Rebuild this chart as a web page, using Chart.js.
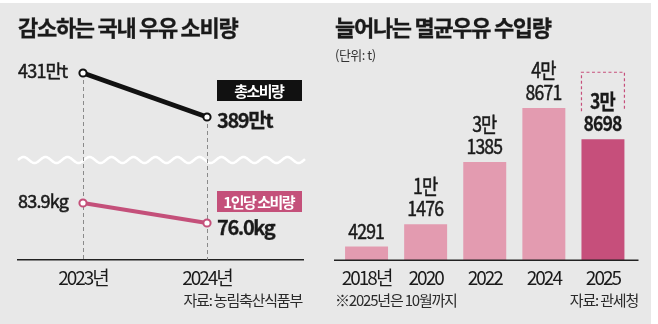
<!DOCTYPE html>
<html><head><meta charset="utf-8">
<script src="https://cdn.jsdelivr.net/npm/chart.js@4.4.0/dist/chart.umd.min.js"></script>
<style>
html,body{margin:0;padding:0;background:#fff;}
body{width:658px;height:324px;position:relative;overflow:hidden;font-family:'Noto Sans CJK KR',sans-serif;}
#panel{position:absolute;left:0;top:3px;width:651px;height:321px;background:#e8e8e8;}
.t{position:absolute;white-space:nowrap;color:#1a1a1a;}
.title{font-size:22px;font-weight:700;letter-spacing:-1.3px;line-height:22px;-webkit-text-stroke:0.3px #1a1a1a;}
.note{font-size:15px;letter-spacing:-1.2px;line-height:16px;color:#2a2a2a;}
.unit{font-size:13px;letter-spacing:-0.5px;line-height:16px;color:#333;}
#lc{position:absolute;left:0;top:0;width:330px;height:324px;}
#rc{position:absolute;left:330px;top:0;width:328px;height:324px;}
</style></head><body>
<div id="panel"></div>
<div id="lc"><canvas id="c1"></canvas></div>
<div id="rc"><canvas id="c2"></canvas></div>
<div class="t title" style="left:18px;top:15px">감소하는 국내 우유 소비량</div>
<div class="t title" style="left:335px;top:15px">늘어나는 멸균우유 수입량</div>
<div class="t unit" style="left:335px;top:47px">(단위: t)</div>
<div class="t note" style="right:356px;top:292px">자료: 농림축산식품부</div>
<div class="t note" style="left:335px;top:292px">※2025년은 10월까지</div>
<div class="t note" style="right:20px;top:292px">자료: 관세청</div>
<script>
// ---- data ----
const consumptionYears = [2023, 2024];
const totalConsumption = [431, 389];      // 만t
const perCapitaConsumption = [83.9, 76.0]; // kg
const seriesNames = ['총소비량', '1인당 소비량'];
const importYears = ['2018년', '2020', '2022', '2024', '2025'];
const importVolume = [4291, 11476, 31385, 48671, 38698]; // t

const FONT = "'Noto Sans CJK KR', sans-serif";
const INK = '#1a1a1a';
const PINK = '#c4507a';
const BAR_LIGHT = '#e39bb0';
const BAR_DARK = '#c64f7b';

function drawLabel(ctx, text, x, y, o) {
  ctx.save();
  ctx.font = o.font;
  ctx.fillStyle = o.color || INK;
  ctx.strokeStyle = o.color || INK;
  ctx.letterSpacing = (o.spacing || 0) + 'px';
  ctx.textBaseline = 'middle';
  ctx.textAlign = 'left';
  const sx = o.scaleX || 1;
  const w = (ctx.measureText(text).width - (o.spacing || 0)) * sx;
  const left = o.align === 'right' ? x - w : (o.align === 'center' ? x - w / 2 : x);
  ctx.translate(left, y);
  ctx.scale(sx, 1);
  ctx.fillText(text, 0, 0);
  if (o.stroke) { ctx.lineWidth = o.stroke; ctx.strokeText(text, 0, 0); }
  ctx.restore();
}

const tickFont = { family: FONT, size: 19 };
const spacingPlugin = {
  id: 'spacing',
  beforeDraw(chart) { chart.ctx.letterSpacing = '-2px'; }
};

// ---- left chart ----
const leftDeco = {
  id: 'leftDeco',
  beforeDatasetsDraw(chart) {
    const ctx = chart.ctx, a = chart.chartArea;
    // wavy break line
    ctx.save();
    ctx.strokeStyle = '#ffffff';
    ctx.lineWidth = 2.5;
    ctx.beginPath();
    const wy = 160;
    for (let x = a.left; x <= a.right + 2; x += 1) {
      const y = wy + 3 * Math.sin((x - a.left) / 22 * Math.PI * 2 + Math.PI);
      if (x === a.left) ctx.moveTo(x, y); else ctx.lineTo(x, y);
    }
    ctx.stroke();
    // dashed drop lines
    ctx.strokeStyle = '#8a8a8a';
    ctx.lineWidth = 1;
    ctx.setLineDash([4, 3]);
    chart.getDatasetMeta(0).data.forEach(p => {
      ctx.beginPath();
      ctx.moveTo(Math.round(p.x) + 0.5, p.y);
      ctx.lineTo(Math.round(p.x) + 0.5, a.bottom);
      ctx.stroke();
    });
    ctx.restore();
  },
  afterDatasetsDraw(chart) {
    const ctx = chart.ctx, a = chart.chartArea;
    const fmt = [v => v + '만t', v => v.toFixed(1) + 'kg'];
    const boxColor = ['#111111', PINK];
    const boxOff = [-37, -32];
    const endOff = [3, 4];
    chart.data.datasets.forEach((ds, di) => {
      const pts = chart.getDatasetMeta(di).data;
      const vals = ds.data.map(d => d.y);
      // first value (left)
      drawLabel(ctx, fmt[di](vals[0]), a.left, pts[0].y - 2,
        { font: `400 18px ${FONT}`, spacing: -0.8, stroke: 0.5 });
      // last value (right, bold)
      const last = pts[pts.length - 1];
      drawLabel(ctx, fmt[di](vals[vals.length - 1]), last.x + 10, last.y + endOff[di],
        { font: `700 20px ${FONT}`, spacing: -1.4, stroke: 0.3 });
      // series box
      const bx = last.x + 10, bw = a.right - 1 - bx, by = last.y + boxOff[di], bh = 21;
      ctx.save();
      ctx.fillStyle = boxColor[di];
      ctx.fillRect(bx, by, bw, bh);
      ctx.restore();
      drawLabel(ctx, ds.label, bx + bw / 2, by + bh / 2 + 0.5,
        { font: `700 15px ${FONT}`, spacing: -1.5, color: '#ffffff', align: 'center' });
    });
  }
};

new Chart(document.getElementById('c1'), {
  type: 'line',
  data: {
    datasets: [
      {
        label: seriesNames[0],
        data: consumptionYears.map((y, i) => ({ x: y, y: totalConsumption[i] })),
        yAxisID: 'yTop',
        borderColor: '#111111', borderWidth: 5,
        pointRadius: 3.6, pointBorderWidth: 2,
        pointBackgroundColor: '#ffffff', pointBorderColor: '#111111'
      },
      {
        label: seriesNames[1],
        data: consumptionYears.map((y, i) => ({ x: y, y: perCapitaConsumption[i] })),
        yAxisID: 'yBot',
        borderColor: PINK, borderWidth: 4,
        pointRadius: 3.6, pointBorderWidth: 2,
        pointBackgroundColor: '#ffffff', pointBorderColor: PINK
      }
    ]
  },
  options: {
    responsive: true, maintainAspectRatio: false, animation: false,
    layout: { padding: { left: 18, right: 27, top: 40, bottom: 0 } },
    plugins: { legend: { display: false }, tooltip: { enabled: false } },
    scales: {
      x: {
        type: 'linear', min: 2022.4758, max: 2024.7742,
        afterBuildTicks: s => { s.ticks = consumptionYears.map(v => ({ value: v })); },
        afterFit: s => { s.height = 64; },
        grid: { display: false, drawTicks: false },
        border: { display: true, color: '#222222', width: 1.5 },
        ticks: { autoSkip: false, maxRotation: 0, padding: 6, font: tickFont, color: INK,
                 callback: v => v + '년' }
      },
      yTop: { display: false, min: 252.5, max: 462.5 },
      yBot: { display: false, min: 61.39, max: 148.28 }
    }
  },
  plugins: [spacingPlugin, leftDeco]
});

// ---- right chart ----
const rightDeco = {
  id: 'rightDeco',
  afterDatasetsDraw(chart) {
    const ctx = chart.ctx, a = chart.chartArea;
    ctx.save();
    ctx.strokeStyle = '#222222';
    ctx.lineWidth = 1.5;
    ctx.beginPath();
    ctx.moveTo(a.left - 3, a.bottom + 0.25);
    ctx.lineTo(a.right + 6, a.bottom + 0.25);
    ctx.stroke();
    ctx.restore();
    const meta = chart.getDatasetMeta(0);
    const vals = chart.data.datasets[0].data;
    meta.data.forEach((bar, i) => {
      const v = vals[i];
      const isLast = i === vals.length - 1;
      const lines = v >= 10000 ? [Math.floor(v / 10000) + '만', String(v % 10000)] : [String(v)];
      const font = `${isLast ? 700 : 400} 21px ${FONT}`;
      let y = bar.y - 16;
      for (let k = lines.length - 1; k >= 0; k--) {
        drawLabel(ctx, lines[k], bar.x, y, { font, spacing: -1, scaleX: 0.84, align: 'center', stroke: isLast ? 0.3 : 0.5 });
        y -= 22;
      }
      if (isLast) {
        const half = bar.width / 2;
        const top = bar.y - 67, bot = bar.y - 28;
        ctx.save();
        ctx.strokeStyle = BAR_DARK;
        ctx.lineWidth = 1.2;
        ctx.setLineDash([3, 2.5]);
        ctx.beginPath();
        ctx.moveTo(bar.x - half, bot);
        ctx.lineTo(bar.x - half, top);
        ctx.lineTo(bar.x + half, top);
        ctx.lineTo(bar.x + half, bot);
        ctx.stroke();
        ctx.restore();
      }
    });
  }
};

new Chart(document.getElementById('c2'), {
  type: 'bar',
  data: {
    labels: importYears,
    datasets: [{
      label: '멸균우유 수입량',
      data: importVolume,
      backgroundColor: importVolume.map((v, i) => i === importVolume.length - 1 ? BAR_DARK : BAR_LIGHT),
      borderWidth: 0,
      barPercentage: 0.727,
      categoryPercentage: 1.0
    }]
  },
  options: {
    responsive: true, maintainAspectRatio: false, animation: false,
    layout: { padding: { left: 7, right: 25.5, top: 40, bottom: 0 } },
    plugins: { legend: { display: false }, tooltip: { enabled: false } },
    scales: {
      x: {
        afterFit: s => { s.height = 64; },
        grid: { display: false, drawTicks: false },
        border: { display: false },
        ticks: { autoSkip: false, maxRotation: 0, padding: 6, font: tickFont, color: INK }
      },
      y: { display: false, min: 0, max: 70500 }
    }
  },
  plugins: [spacingPlugin, rightDeco]
});
</script>
</body></html>
